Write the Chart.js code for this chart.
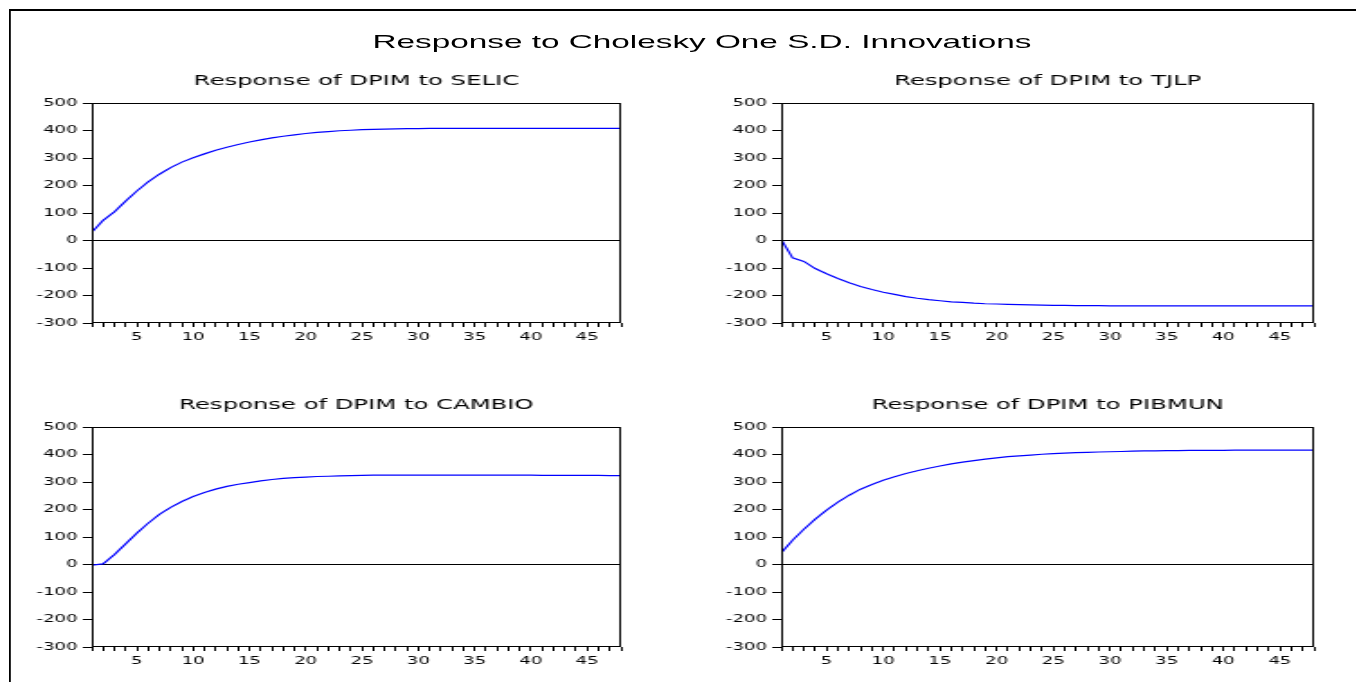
<!DOCTYPE html>
<html>
<head>
<meta charset="utf-8">
<script src="https://cdn.jsdelivr.net/npm/chart.js@4.4.1/dist/chart.umd.min.js"></script>
<style>
  html, body { margin: 0; padding: 0; background: #fff; overflow: hidden; width: 1356px; height: 682px; }
  /* the original graph is stretched sideways, so draw narrow and scale */
  #stage { position: absolute; left: 0; top: 0; width: 754px; height: 682px; transform: scale(1.8, 1); transform-origin: 0 0; }
  #frame { position: absolute; left: 5px; top: 9px; width: 800px; height: 700px; border-left: 1px solid #000; border-top: 2px solid #000; }
  #mainTitle { position: absolute; left: 0; top: 30px; width: 780px; text-align: center; font: 18.5px/24px "Liberation Sans", Arial, sans-serif; color: #000; }
  .panel { position: absolute; }
</style>
</head>
<body>
<div id="stage">
  <div id="frame"></div>
  <div id="mainTitle">Response to Cholesky One S.D. Innovations</div>
  <div class="panel" style="left:11px;top:68px;width:338px;height:279px"><canvas id="c1"></canvas></div>
  <div class="panel" style="left:394px;top:68px;width:340px;height:279px"><canvas id="c2"></canvas></div>
  <div class="panel" style="left:11px;top:392px;width:338px;height:279px"><canvas id="c3"></canvas></div>
  <div class="panel" style="left:394px;top:392px;width:340px;height:279px"><canvas id="c4"></canvas></div>
</div>
<script>
// DATA
const periods = [1, 2, 3, 4, 5, 6, 7, 8, 9, 10, 11, 12, 13, 14, 15, 16, 17, 18, 19, 20, 21, 22, 23, 24,
                 25, 26, 27, 28, 29, 30, 31, 32, 33, 34, 35, 36, 37, 38, 39, 40, 41, 42, 43, 44, 45, 46, 47, 48];
const xTickLabels = [5, 10, 15, 20, 25, 30, 35, 40, 45];
const yTickValues = [-300, -200, -100, 0, 100, 200, 300, 400, 500];

const selicResp = [30, 73, 104, 143, 180, 213, 241, 265, 285, 301,
                   315, 328, 339, 349, 358, 366, 373, 379, 384, 389,
                   393, 396, 399, 401, 403, 404, 405, 406, 407, 407,
                   408, 408, 408, 408, 408, 408, 408, 408, 408, 408, 408, 408, 408, 408, 408, 408, 408, 408];
const tjlpResp = [4, -63, -76, -102, -121, -138, -154, -167, -178, -188,
                  -196, -204, -210, -215, -219, -223, -225, -228, -230, -231,
                  -232, -233, -234, -235, -236, -236, -237, -237, -237, -238,
                  -238, -238, -238, -238, -238, -238, -238, -238, -238, -238, -238, -238, -238, -238, -238, -238, -238, -238];
const cambioResp = [-2, 2, 36, 75, 114, 150, 182, 208, 229, 247,
                    262, 274, 284, 292, 298, 304, 309, 313, 316, 318,
                    320, 321, 322, 323, 324, 325, 325, 325, 325, 325,
                    325, 325, 325, 325, 325, 325, 325, 325, 325, 325,
                    324, 324, 324, 324, 324, 324, 323, 323];
const pibmunResp = [42, 88, 128, 165, 198, 227, 252, 274, 291, 306,
                    319, 331, 341, 350, 358, 366, 372, 378, 383, 388,
                    392, 395, 398, 401, 403, 405, 407, 408, 409, 410,
                    411, 412, 413, 413, 414, 414, 415, 415, 415, 415,
                    416, 416, 416, 416, 416, 416, 416, 416];

// box round the plot area
const boxPlugin = {
  id: 'box',
  afterDatasetsDraw(chart) {
    const a = chart.chartArea;
    const ctx = chart.ctx;
    ctx.save();
    ctx.strokeStyle = '#000';
    ctx.lineWidth = 1;
    ctx.strokeRect(Math.round(a.left) + 0.5, Math.round(a.top) + 0.5,
                   Math.round(a.right - a.left) - 1, Math.round(a.bottom - a.top) - 1);
    ctx.restore();
  }
};

const tickFont = { family: "'DejaVu Sans'", size: 10 };

function makePanel(id, title, values) {
  new Chart(document.getElementById(id), {
    type: 'line',
    data: {
      labels: periods,
      datasets: [{ data: values, borderColor: '#0000ff', borderWidth: 1.2, pointRadius: 0, tension: 0, fill: false }]
    },
    options: {
      responsive: true,
      maintainAspectRatio: false,
      animation: false,
      layout: { padding: { left: 0, right: 2, top: 0, bottom: 0 } },
      plugins: {
        legend: { display: false },
        tooltip: { enabled: false },
        title: {
          display: true, text: title, color: '#000', fullSize: false,
          font: { family: "'DejaVu Sans'", size: 13.5, weight: 'normal', lineHeight: 1.2 },
          padding: { top: 5.4, bottom: 13.4 }
        }
      },
      scales: {
        x: {
          type: 'linear', min: 1, max: 48,
          afterBuildTicks: axis => { axis.ticks = periods.map(v => ({ value: v })); },
          afterFit: axis => { axis.height = 24; },
          ticks: {
            autoSkip: false, maxRotation: 0, padding: 4, color: '#000', font: tickFont,
            callback: v => xTickLabels.includes(v) ? String(v) : ''
          },
          grid: { drawOnChartArea: false, drawTicks: true, tickLength: 4, tickColor: '#000' },
          border: { display: false }
        },
        y: {
          min: -300, max: 500,
          afterBuildTicks: axis => { axis.ticks = yTickValues.map(v => ({ value: v })); },
          afterFit: axis => { axis.width = 40; },
          ticks: { padding: 3, color: '#000', font: tickFont },
          grid: {
            color: c => (c.tick && c.tick.value === 0) ? '#000' : 'rgba(0,0,0,0)',
            tickColor: '#000', tickLength: 5, lineWidth: 1
          },
          border: { display: false }
        }
      }
    },
    plugins: [boxPlugin]
  });
}

makePanel('c1', 'Response of DPIM to SELIC', selicResp);
makePanel('c2', 'Response of DPIM to TJLP', tjlpResp);
makePanel('c3', 'Response of DPIM to CAMBIO', cambioResp);
makePanel('c4', 'Response of DPIM to PIBMUN', pibmunResp);
</script>
</body>
</html>
